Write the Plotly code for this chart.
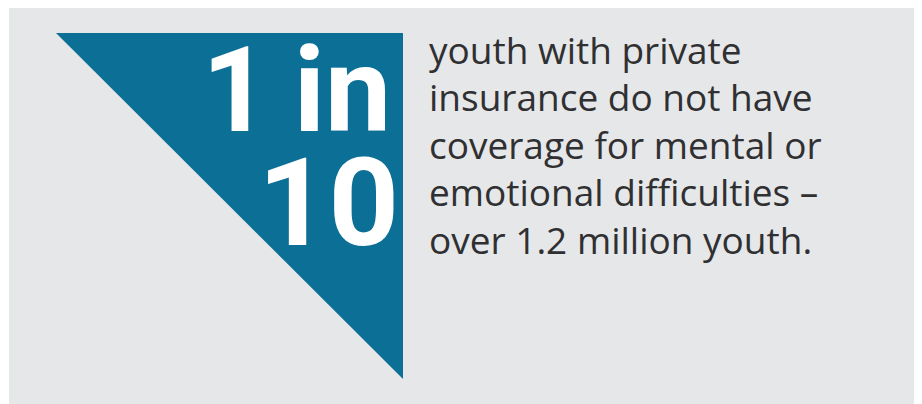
import plotly.graph_objects as go

# ---- data ----
ratio_numerator = 1
ratio_denominator = 10
message_lines = [
    "youth with private",
    "insurance do not have",
    "coverage for mental or",
    "emotional difficulties –",
    "over 1.2 million youth.",
]

# ---- style / layout constants ----
PAGE_W, PAGE_H = 922, 404
OFF = 8  # browser body margin
BG_GRAY = "#e6e7e9"
BLUE = "#0b6f96"
TEXT_COLOR = "#303032"

fig = go.Figure()

# triangle marker (page pixel coordinates)
tri_x = [56, 403, 403, 56]
tri_y = [33, 33, 379, 33]
fig.add_trace(go.Scatter(x=tri_x, y=tri_y, fill="toself", fillcolor=BLUE,
                         line=dict(width=0, color=BLUE), mode="lines",
                         hoverinfo="skip", showlegend=False))

big_family = "Roboto, sans-serif"
fig.add_annotation(x=393, y=132, text=f"<b>{ratio_numerator}\u2009in</b>", showarrow=False,
                   xanchor="right", yanchor="bottom",
                   font=dict(family=big_family, size=118, color="white"), yshift=-30)
fig.add_annotation(x=401, y=246, text=f"<b>{ratio_denominator}</b>", showarrow=False,
                   xanchor="right", yanchor="bottom",
                   font=dict(family=big_family, size=123, color="white"), yshift=-31)

line_y0 = 49
line_step = 47.5
for i, line in enumerate(message_lines):
    fig.add_annotation(x=427, y=line_y0 + i * line_step, text=line, showarrow=False,
                       xanchor="left", yanchor="middle",
                       font=dict(family="Open Sans, sans-serif", size=37, color=TEXT_COLOR))

fig.update_layout(
    width=PAGE_W - OFF, height=PAGE_H - OFF,
    margin=dict(l=0, r=0, t=0, b=0),
    paper_bgcolor=BG_GRAY, plot_bgcolor=BG_GRAY,
    xaxis=dict(range=[OFF, PAGE_W], visible=False, fixedrange=True),
    yaxis=dict(range=[PAGE_H, OFF], visible=False, fixedrange=True),
    shapes=[dict(type="rect", xref="x", yref="y", x0=OFF, x1=9, y0=OFF, y1=PAGE_H,
                 fillcolor="white", line=dict(width=0), layer="below")],
)

fig.write_html("out.html", config={"displayModeBar": False})
